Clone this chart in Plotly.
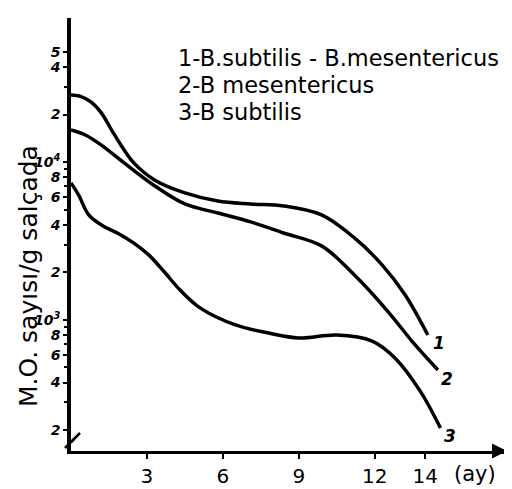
import math
import plotly.graph_objects as go

# months (ay)
x1 = [0, 0.4, 0.8, 1.2, 1.6, 2.0, 2.5, 3.3, 4.5, 5.8, 7.1, 8.4, 9.9, 11.2, 12.3, 13.2, 14.1]
y1 = [26600, 26000, 24000, 20500, 16000, 12600, 9800, 7700, 6370, 5660, 5420, 5270, 4620, 3300, 2220, 1440, 800]

x2 = [0, 0.55, 1.2, 2.1, 3.2, 4.5, 5.8, 7.1, 8.4, 9.9, 11.2, 12.5, 13.6, 14.5]
y2 = [16000, 14900, 12800, 9860, 7260, 5420, 4750, 4170, 3550, 2940, 1920, 1140, 692, 480]

x3 = [0, 0.3, 0.7, 1.2, 1.9, 2.5, 3.1, 3.7, 4.3, 5.1, 6.5, 7.8, 9.0, 10.5, 11.9, 12.8, 13.8, 14.6]
y3 = [7370, 6180, 4620, 3990, 3500, 3050, 2550, 2000, 1550, 1190, 927, 824, 766, 800, 733, 573, 353, 206]

legend_lines = ["1-B.subtilis - B.mesentericus", "2-B mesentericus", "3-B subtilis"]

x_ticks = [3, 6, 9, 12, 14]
x_ticktext = ["3", "6", "9", "12", "14"]
y_ticks = [200, 400, 600, 800, 1000, 2000, 4000, 6000, 8000, 10000, 20000, 40000, 50000]
y_ticktext = ["2", "4", "6", "8", "10<sup>3</sup>", "2", "4", "6", "8", "10<sup>4</sup>", "2", "4", "5"]
y_minor = [300, 500, 700, 900, 3000, 5000, 7000, 9000, 30000]

W, H = 512, 489
L, R, T, B = 63, 15, 10, 46
PW, PH = W - L - R, H - T - B


def px(xp):
    return (xp - L) / PW


def py(yp):
    return (H - B - yp) / PH


fig = go.Figure()
for xs, ys, name in [(x1, y1, "1"), (x2, y2, "2"), (x3, y3, "3")]:
    fig.add_trace(go.Scatter(x=xs, y=ys, mode="lines", name=name,
                             line=dict(color="black", width=3.5, shape="spline", smoothing=1.0),
                             showlegend=False, hoverinfo="skip"))

# curve end labels (annotation y on a log axis is given in log10 units)
for xs, ys, name, dx, dy in [(x1, y1, "1", 11, -8), (x2, y2, "2", 9, -9), (x3, y3, "3", 10, -8)]:
    fig.add_annotation(x=xs[-1], y=math.log10(ys[-1]), text=name, showarrow=False,
                       xshift=dx, yshift=dy,
                       font=dict(family="DejaVu Sans", size=17, color="black", style="italic", weight="bold"))

for i, line in enumerate(legend_lines):
    fig.add_annotation(xref="paper", yref="paper", x=px(168), y=py(50 + 27 * i),
                       text=line, showarrow=False, xanchor="left", yanchor="middle",
                       font=dict(family="DejaVu Sans", size=22.5, color="black"))

fig.add_annotation(xref="paper", yref="paper", x=px(20), y=py(268),
                   xanchor="center", yanchor="middle",
                   text="M.O. sayısı/g salçada", textangle=-90, showarrow=False,
                   font=dict(family="DejaVu Sans", size=25, color="black"))

fig.add_annotation(xref="paper", yref="paper", x=px(467), y=py(466),
                   text="(ay)", showarrow=False, xanchor="center", yanchor="middle",
                   font=dict(family="DejaVu Sans", size=21, color="black"))

# arrow on x axis
fig.add_annotation(xref="paper", yref="paper", x=px(499), y=0, ax=-12, ay=0,
                   text="", showarrow=True, arrowhead=2, arrowsize=1.2, arrowwidth=2.5,
                   arrowcolor="black")

# axis break marks
for off in (0, 6):
    fig.add_shape(type="line", xref="paper", yref="paper",
                  x0=px(57 + off), y0=py(440 - off), x1=px(66 + off), y1=py(431 - off),
                  line=dict(color="black", width=2.5))

fig.update_layout(
    width=W, height=H,
    margin=dict(l=L, r=R, t=T, b=B, autoexpand=False),
    paper_bgcolor="white", plot_bgcolor="white",
    xaxis=dict(range=[0, 17.15], tickvals=x_ticks, ticktext=x_ticktext,
               showline=True, linewidth=3, linecolor="black",
               ticks="outside", ticklen=5, tickwidth=2, tickcolor="black",
               showgrid=False, zeroline=False, ticklabelstandoff=0,
               tickfont=dict(family="DejaVu Sans", size=20, color="black")),
    yaxis=dict(type="log", range=[2.168, 4.913], tickvals=y_ticks, ticktext=y_ticktext,
               showline=True, linewidth=3.5, linecolor="black",
               ticks="outside", ticklen=4, tickwidth=2, tickcolor="black",
               minor=dict(tickvals=y_minor, ticks="outside", ticklen=3, tickwidth=1.5, tickcolor="black"),
               showgrid=False, zeroline=False,
               tickfont=dict(family="DejaVu Sans", size=14, color="black", style="italic", weight="bold")),
)

fig.write_html("out.html")
